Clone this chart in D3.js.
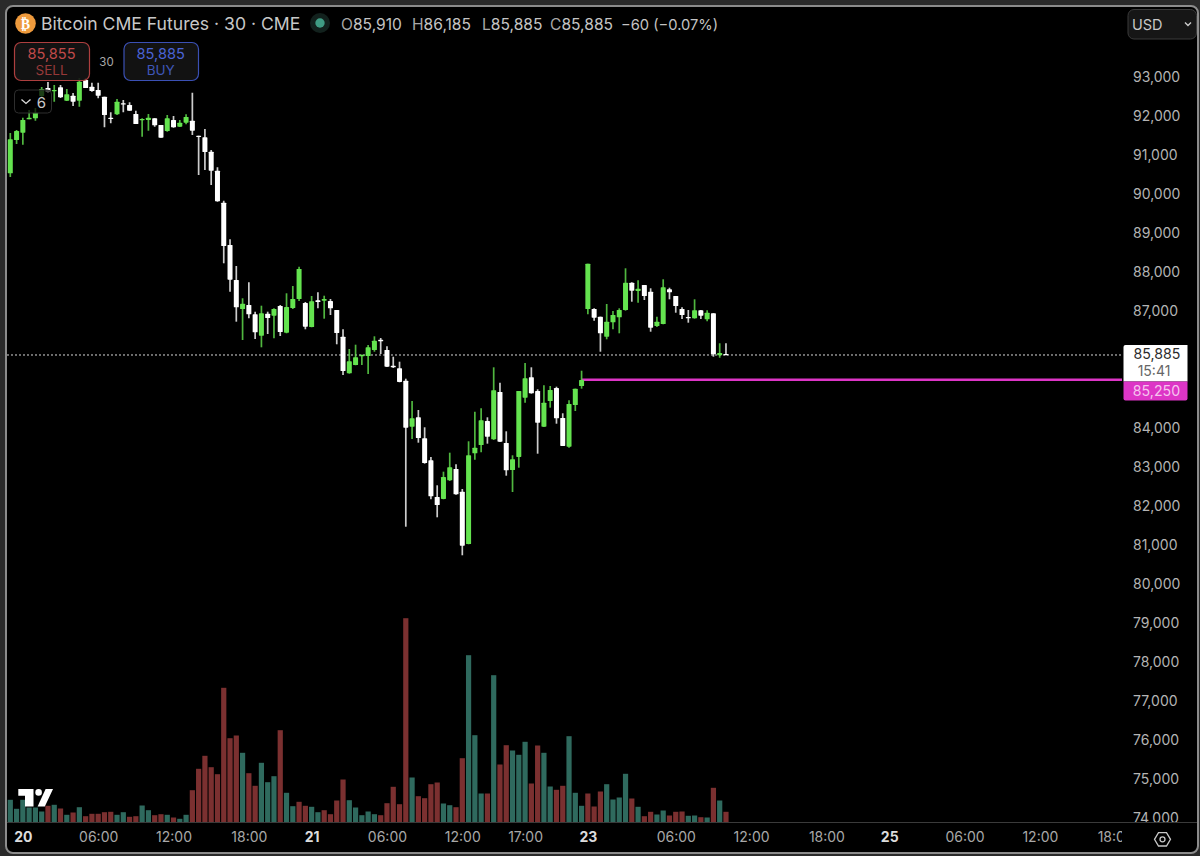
<!DOCTYPE html>
<html><head><meta charset="utf-8">
<style>html,body{margin:0;padding:0;background:#2a2a2a}svg{display:block}text{font-family:Inter,"Noto Sans",sans-serif}</style>
<script src="https://cdn.jsdelivr.net/npm/d3@7/dist/d3.min.js"></script>
</head><body><svg id="c" width="1200" height="856"></svg>
<script>
const opens=[90544,91397,91585,91928,91954,92526,92731,92654,92749,92405,92533,92405,92936,92764,92679,92508,91969,92056,92338,92295,92064,91910,91910,91954,91782,91628,91910,91738,91841,91892,91508,91467,91097,90610,89790,88705,87808,87064,87167,86928,86380,86944,86892,87141,86456,87090,87321,87218,86603,87287,87277,87269,87039,86354,85416,85628,85851,85859,86013,86277,86013,85610,85544,85226,84046,84287,83749,83185,82244,82193,82672,82962,82380,81039,83364,83577,84193,83723,84936,83628,82936,83270,84790,85313,84962,84046,84705,85039,84269,83534,84603,85090,87064,87064,86867,86354,86723,86851,87039,87739,87526,87680,87508,86628,86680,87569,87398,87064,86859,86826,87031,86800,86954,85877,85910];
const highs=[91577,91654,91969,92167,92218,92756,92885,92808,92808,92705,92602,92987,92987,92867,92867,92508,92108,92449,92423,92364,92149,91954,92064,91954,91782,92038,92013,91910,92056,92610,91508,91679,91141,90697,89841,88851,88167,87339,87749,86995,87149,86995,87082,87167,87467,87654,88149,87244,87398,87492,87405,87321,87039,86544,86039,86149,85892,86141,86364,86321,86108,85841,85713,85277,84705,84475,84031,83270,82544,82893,83380,83082,82449,83672,84431,84518,84287,85569,85175,83928,83313,84962,85680,85569,85005,85108,85090,85072,84390,84723,85021,85482,88226,87082,86867,87192,87013,87082,88108,87749,87800,87680,87595,86867,87826,87610,87398,87108,87039,87313,87039,87031,86954,86185,86185];
const lows=[90449,91295,91277,91928,91892,92500,92602,92379,92474,92397,92269,92251,92731,92636,92467,91723,91826,92038,92108,92149,91808,91482,91636,91738,91456,91610,91713,91731,91800,91526,90500,90628,90244,89815,88236,87508,86739,86269,86826,86295,86082,86423,86313,86372,86441,87064,87269,86544,86595,87082,86816,86910,86159,85372,85405,85621,85628,85398,85969,85910,85577,85551,85185,81482,83731,83636,83098,82185,81723,82185,82654,82303,80749,81031,83200,83390,83611,83705,83654,82790,82372,82995,84662,84893,83354,84039,84534,84123,83552,83508,84449,85021,86928,86764,85969,86287,86544,86441,87021,87251,87226,87295,86482,86603,86672,87313,86969,86808,86713,86816,86808,86749,85841,85815,85885];
const closes=[91415,91628,91910,91969,92097,92705,92628,92679,92492,92569,92379,92892,92731,92654,92533,92038,91936,92379,92313,92149,91808,91936,91969,91774,91456,91954,91723,91841,91987,91636,91482,91090,90610,89826,88680,87815,87108,87200,86928,86467,86954,86833,87064,86475,87116,87321,88090,86610,87262,87244,87321,87082,86449,85475,85723,85826,85892,86082,86252,86236,85585,85569,85193,84021,84262,83757,83116,82262,82039,82757,83005,82313,80995,83313,83508,84210,83790,84980,83662,82929,83211,84962,85287,84903,84149,84662,84987,84262,83552,84628,85021,85244,88226,86841,86441,86739,86910,87039,87739,87533,87585,87398,86585,86739,87621,87492,87141,86910,86826,87031,86892,86969,85903,85936,85885];
const volumes=[227,137,227,150,150,110,167,177,140,77,100,153,63,87,87,103,107,77,103,57,63,170,123,73,83,77,50,37,77,323,537,667,553,483,1347,843,870,697,493,367,597,403,463,923,297,163,207,167,157,103,123,83,220,430,223,150,73,110,83,73,193,357,183,2043,450,263,243,383,400,190,173,153,643,1673,873,290,290,1473,580,773,720,677,807,390,770,697,360,327,367,863,297,167,290,160,310,383,230,250,487,240,157,63,107,80,120,70,107,110,67,70,53,50,347,220,107];
const volumeUp=[1,1,1,1,1,1,0,1,0,1,0,1,0,0,0,0,0,1,1,0,0,1,1,0,0,1,0,1,1,0,0,0,0,0,0,0,0,1,0,0,1,1,1,0,1,1,0,0,1,1,0,0,0,0,1,1,1,1,1,0,0,0,0,0,1,0,0,0,0,1,1,0,0,1,1,1,0,1,0,0,1,1,1,0,0,1,1,0,0,1,1,1,0,0,0,1,1,1,1,0,1,0,0,1,1,0,0,0,1,1,0,1,0,1,0];
const priceTicks=[93000,92000,91000,90000,89000,88000,87000,84000,83000,82000,81000,80000,79000,78000,77000,76000,75000,74000];
const timeTicks=[2,14,26,38,48,60,72,82,92,106,118,130,140,152,164,176];
const timeLabels=["20","06:00","12:00","18:00","21","06:00","12:00","17:00","23","06:00","12:00","18:00","25","06:00","12:00","18:00"];
const dayLabels=["20","21","23","25"];
const lastPrice=85885, targetPrice=85250, targetStartIndex=91;
const titleText="Bitcoin CME Futures · 30 · CME";
const ohlcLabels=[["O","85,910",341],["H","86,185",412],["L","85,885",482],["C","85,885",550]];

const svg=d3.select("#c");
const x=d3.scaleLinear().domain([0,176]).range([10.3,1115.2]);
const y=d3.scaleLinear().domain([74000,93000]).range([818.5,77.5]);
const v=d3.scaleLinear().domain([0,2043]).range([822.5,618.2]);

// frame
svg.append("defs").html(`<clipPath id="plot"><rect x="7" y="7" width="1115" height="815.5"/></clipPath>
<clipPath id="timeclip"><rect x="7" y="824" width="1115" height="28"/></clipPath>
<clipPath id="priceclip"><rect x="1122" y="42" width="76" height="780"/></clipPath>`);
svg.append("rect").attr("x",6).attr("y",6).attr("width",1192).attr("height",847).attr("rx",7).attr("fill","#000").attr("stroke","#8c8c8c").attr("stroke-width",2);

// volume
const plot=svg.append("g").attr("clip-path","url(#plot)");
plot.append("g").selectAll("rect").data(volumes).join("rect")
 .attr("x",(d,i)=>x(i)-2.6).attr("width",5.2)
 .attr("y",d=>v(d)).attr("height",d=>v(0)-v(d))
 .attr("fill",(d,i)=>volumeUp[i]?"#2f6a5e":"#7b3030");

// price lines
plot.append("line").attr("x1",7).attr("x2",1122).attr("y1",y(lastPrice)).attr("y2",y(lastPrice)).attr("stroke","#d8d8d8").attr("stroke-width",1).attr("stroke-dasharray","2 2");
plot.append("line").attr("x1",x(targetStartIndex)).attr("x2",1122).attr("y1",y(targetPrice)).attr("y2",y(targetPrice)).attr("stroke","#dd35c6").attr("stroke-width",2.4);

// candles
const color=i=>closes[i]>=opens[i]?"#64e34f":"#ffffff";
const cg=plot.append("g");
cg.selectAll("line").data(opens).join("line")
 .attr("x1",(d,i)=>x(i)).attr("x2",(d,i)=>x(i))
 .attr("y1",(d,i)=>y(highs[i])).attr("y2",(d,i)=>y(lows[i]))
 .attr("stroke",(d,i)=>color(i)).attr("stroke-opacity",.8).attr("stroke-width",1.7);
cg.selectAll("rect").data(opens).join("rect")
 .attr("x",(d,i)=>x(i)-2.5).attr("width",5)
 .attr("y",(d,i)=>y(Math.max(opens[i],closes[i])))
 .attr("height",(d,i)=>Math.max(1.2,Math.abs(y(opens[i])-y(closes[i]))))
 .attr("rx",.6).attr("fill",(d,i)=>color(i));

// baseline
svg.append("line").attr("x1",7).attr("x2",1197).attr("y1",822.5).attr("y2",822.5).attr("stroke","#3a3a3a").attr("stroke-width",1.2);

// price axis
const pa=svg.append("g").attr("clip-path","url(#priceclip)").append("g").attr("transform","translate(1133,0)")
 .call(d3.axisRight(y).tickValues(priceTicks).tickSize(0).tickPadding(0).tickFormat(d3.format(",")));
pa.select(".domain").remove();
pa.selectAll("text").attr("fill","#b4b4b4").style("font-size","14px").style("font-family","Inter");

// time axis
const ta=svg.append("g").attr("clip-path","url(#timeclip)").append("g").attr("transform","translate(0,832)")
 .call(d3.axisBottom(x).tickValues(timeTicks).tickSize(0).tickPadding(0).tickFormat((d,i)=>timeLabels[i]));
ta.select(".domain").remove();
ta.selectAll("text").attr("fill",(d,i)=>dayLabels.includes(timeLabels[i])?"#dcdcdc":"#a8a8a8")
 .style("font-weight",(d,i)=>dayLabels.includes(timeLabels[i])?"700":"400")
 .style("font-size","14px").style("font-family","Inter");

// TradingView logo
const logo=svg.append("g").attr("fill","#fff");
logo.append("path").attr("d","M18.3 789H33.5V806.5H25V795.8H18.3Z");
logo.append("circle").attr("cx",38.6).attr("cy",792.4).attr("r",3.3);
logo.append("path").attr("d","M45.6 789H53L44.8 806.6H37.6Z");

// header
svg.append("circle").attr("cx",25.5).attr("cy",23.5).attr("r",10.3).attr("fill","#ee9a3d");
svg.append("text").attr("x",25.5).attr("y",28.5).attr("text-anchor","middle").attr("fill","#fff").style("font-size","14px").style("font-weight","700").style("font-family","'DejaVu Sans'").text("₿");
svg.append("text").attr("x",41).attr("y",30).attr("fill","#c8c8c8").style("font-size","17.6px").text(titleText);
svg.append("circle").attr("cx",320).attr("cy",23).attr("r",10).attr("fill","#12211d");
svg.append("circle").attr("cx",320).attr("cy",23).attr("r",4.7).attr("fill","#3f9b83");
ohlcLabels.forEach(([k,val,px])=>{
  const t=svg.append("text").attr("x",px).attr("y",29.5).attr("fill","#c4c4c4").style("font-size","15.6px");
  t.append("tspan").attr("fill","#a8a8a8").text(k); t.append("tspan").text(val);
});
svg.append("text").attr("x",621).attr("y",29.5).attr("fill","#c4c4c4").style("font-size","14.7px").text("−60 (−0.07%)");

// sell / buy
function btn(bx,w,stroke,c1,c2,a,b){
  svg.append("rect").attr("x",bx+.5).attr("y",42.5).attr("width",w).attr("height",38).attr("rx",6.5).attr("fill","#141414").attr("fill-opacity",.9).attr("stroke",stroke).attr("stroke-width",1.2);
  svg.append("text").attr("x",bx+w/2).attr("y",58.5).attr("text-anchor","middle").attr("fill",c1).style("font-size","14.6px").text(a);
  svg.append("text").attr("x",bx+w/2).attr("y",74.5).attr("text-anchor","middle").attr("fill",c2).style("font-size","13.5px").text(b);
}
btn(14,75,"#ad3f3f","#c04a4a","#963939","85,855","SELL");
btn(123.5,74.5,"#3b50b4","#4a63d6","#3f57b8","85,885","BUY");
svg.append("text").attr("x",106.5).attr("y",65.5).attr("text-anchor","middle").attr("fill","#a8a8a8").style("font-size","11.5px").text("30");
svg.append("rect").attr("x",14.5).attr("y",90).attr("width",37).attr("height",23).attr("rx",4).attr("fill","#000").attr("fill-opacity",.72).attr("stroke","#2e2e2e").attr("stroke-width",1);
svg.append("path").attr("d","M21.5 99.5L26 103.5L30.5 99.5").attr("fill","none").attr("stroke","#ddd").attr("stroke-width",1.3);
svg.append("text").attr("x",41.5).attr("y",107.5).attr("text-anchor","middle").attr("fill","#c8c8c8").style("font-size","15px").text("6");

// USD
svg.append("rect").attr("x",1128).attr("y",9.5).attr("width",68.5).attr("height",29.5).attr("rx",6).attr("fill","#161616").attr("stroke","#3a3a3a");
svg.append("text").attr("x",1132).attr("y",29.5).attr("fill","#c8c8c8").style("font-size","14.5px").text("USD");
svg.append("path").attr("d","M1185 22.5L1188 25.5L1191 22.5").attr("fill","none").attr("stroke","#ccc").attr("stroke-width",1.4);

// last-price tags
svg.append("path").attr("d","M1123.5 347a2 2 0 0 1 2-2H1187.5V381.5H1123.5Z").attr("fill","#fff");
svg.append("text").attr("x",1157).attr("y",358.5).attr("text-anchor","middle").attr("fill","#2b2b2b").style("font-size","14.2px").text(d3.format(",")(lastPrice));
svg.append("text").attr("x",1154).attr("y",375.5).attr("text-anchor","middle").attr("fill","#666").style("font-size","14px").text("15:41");
svg.append("path").attr("d","M1123.5 381.5H1187.5V398.5a2 2 0 0 1 -2 2H1125.5a2 2 0 0 1 -2 -2Z").attr("fill","#dd35c6");
svg.append("text").attr("x",1156.5).attr("y",395.5).attr("text-anchor","middle").attr("fill","#f6c4ee").style("font-size","14.2px").text(d3.format(",")(targetPrice));

// settings icon
svg.append("path").attr("d","M1154.5 839.3L1158.5 832.7H1166.5L1170.5 839.3L1166.5 846H1158.5Z").attr("fill","none").attr("stroke","#c8c8c8").attr("stroke-width",1.3);
svg.append("circle").attr("cx",1162.5).attr("cy",839.3).attr("r",2.5).attr("fill","none").attr("stroke","#c8c8c8").attr("stroke-width",1.3);
</script></body></html>
